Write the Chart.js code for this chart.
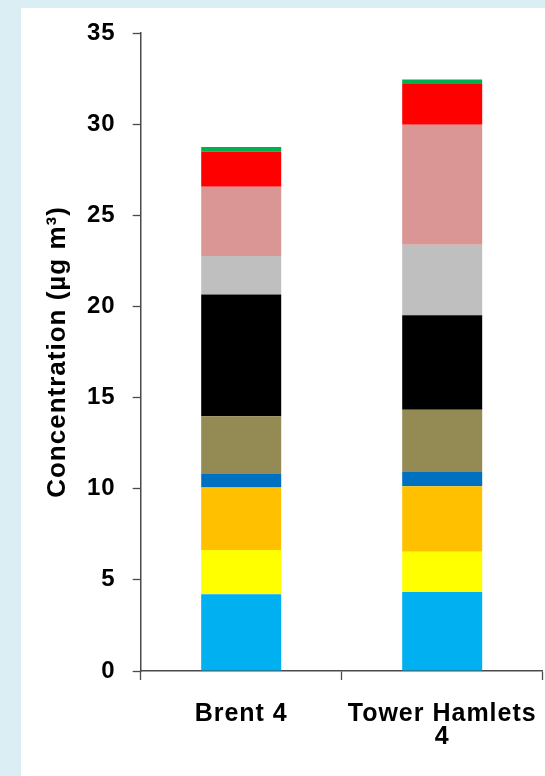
<!DOCTYPE html>
<html>
<head>
<meta charset="utf-8">
<script src="https://cdn.jsdelivr.net/npm/chart.js@4"></script>
<style>
  html, body { margin: 0; padding: 0; width: 545px; height: 776px; overflow: hidden; background: #daeef3; }
  #panel { position: absolute; left: 21px; top: 8px; width: 524px; height: 768px; background: #ffffff; }
  canvas { display: block; }
</style>
</head>
<body>
<div id="panel"><canvas id="chart" width="524" height="768"></canvas></div>
<script>
// Sites (multi-line labels)
const sites = [['Brent 4'], ['Tower Hamlets', '4']];

// Stacked components, bottom to top (µg m³)
const skyBlue   = [4.21, 4.33];
const yellow    = [2.43, 2.21];
const amber     = [3.42, 3.59];
const blue      = [0.75, 0.79];
const olive     = [3.16, 3.41];
const black     = [6.69, 5.18];
const grey      = [2.11, 3.87];
const rose      = [3.80, 6.59];
const red       = [1.92, 2.23];
const green     = [0.25, 0.25];

const stackOrder   = [skyBlue, yellow, amber, blue, olive, black, grey, rose, red, green];
const stackNames   = ['Sky blue', 'Yellow', 'Amber', 'Blue', 'Olive', 'Black', 'Grey', 'Rose', 'Red', 'Green'];
const stackColours = ['#00b0f0', '#ffff00', '#ffc000', '#0070c0', '#948a54', '#000000', '#bfbfbf', '#d99694', '#ff0000', '#00b050'];

// Value axis
const yMin = 0, yMax = 35, yStep = 5;
const yTitle = 'Concentration (µg m³)';

const axisColour = '#4a4a4a';
const fontFamily = '"Liberation Sans", Arial, sans-serif';

// Slightly wider letter spacing for all canvas text
const spacingPlugin = {
  id: 'spacing',
  beforeUpdate(chart) { chart.ctx.letterSpacing = '1px'; },
  beforeLayout(chart) { chart.ctx.letterSpacing = '1px'; },
  beforeDraw(chart) { chart.ctx.letterSpacing = '1px'; }
};

new Chart(document.getElementById('chart'), {
  type: 'bar',
  data: {
    labels: sites,
    datasets: stackOrder.map((vals, i) => ({
      label: stackNames[i],
      data: vals,
      backgroundColor: stackColours[i],
      borderWidth: 0,
      categoryPercentage: 1,
      barPercentage: 0.398
    }))
  },
  options: {
    responsive: false,
    devicePixelRatio: 1,
    animation: false,
    layout: { padding: { left: 0, right: 2.3, top: 25, bottom: 0 } },
    plugins: { legend: { display: false }, tooltip: { enabled: false } },
    scales: {
      x: {
        stacked: true,
        offset: true,
        afterFit(scale) {
          scale.height = 105;
          scale.paddingLeft = 0;
          scale.paddingRight = 0;
        },
        grid: { offset: true, drawOnChartArea: false, drawTicks: true, tickLength: 9, tickColor: axisColour, tickWidth: 1.3 },
        border: { display: true, color: axisColour, width: 1.5 },
        ticks: {
          color: '#000000',
          padding: 22,
          maxRotation: 0,
          font: { family: fontFamily, size: 25, weight: 'bold', lineHeight: 0.93 }
        }
      },
      y: {
        stacked: true,
        min: yMin,
        max: yMax,
        afterFit(scale) {
          scale.width = 119.7;
          scale.paddingTop = 0;
          scale.paddingBottom = 0;
        },
        grid: { drawOnChartArea: false, drawTicks: true, tickLength: 8, tickColor: axisColour, tickWidth: 1.3 },
        border: { display: true, color: axisColour, width: 1.5 },
        ticks: {
          stepSize: yStep,
          color: '#000000',
          padding: 17,
          font: { family: fontFamily, size: 24, weight: 'bold' }
        },
        title: {
          display: true,
          text: yTitle,
          color: '#000000',
          padding: { top: 21, bottom: 0 },
          font: { family: fontFamily, size: 26, weight: 'bold', lineHeight: 1.2 }
        }
      }
    }
  },
  plugins: [spacingPlugin]
});
</script>
</body>
</html>
